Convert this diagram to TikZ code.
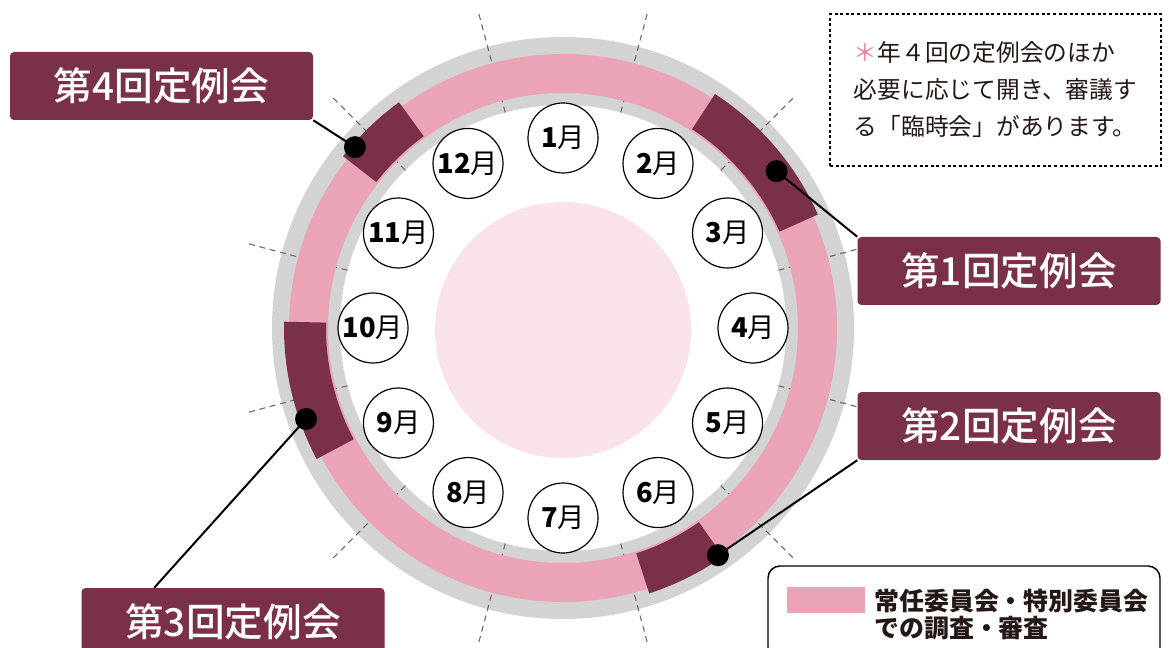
\documentclass[tikz,border=0pt]{standalone}
\usepackage{fontspec}
\newfontfamily\jp{Noto Sans CJK JP}
\newfontfamily\jpmed{Noto Sans CJK JP Medium}
\usetikzlibrary{calc}
\definecolor{ringgray}{RGB}{211,211,211}
\definecolor{bandpink}{RGB}{235,163,182}
\definecolor{maroon}{RGB}{122,48,73}
\definecolor{innerpink}{RGB}{249,227,232}
\definecolor{tickgray}{RGB}{105,105,105}
\definecolor{astpink}{RGB}{232,128,160}
\definecolor{txt}{RGB}{35,24,21}
\begin{document}
\begin{tikzpicture}[x=0.75pt,y=0.75pt,
 radtick/.style={draw=tickgray, line width=0.8pt, dash pattern=on 4.5pt off 3.5pt},
 month/.style={circle, draw=black, line width=0.9pt, fill=white, minimum size=52.5pt, inner sep=0pt, text=black, font=\jp\fontsize{20.5}{21}\selectfont},
 meeting/.style={fill=maroon, rounded corners=3pt, minimum width=227.25pt, minimum height=51pt, inner sep=0pt, text=white, font=\jpmed\fontsize{29}{30}\selectfont},
 blackdot/.style={circle, fill=black, minimum size=16.5pt, inner sep=0pt},
 link/.style={draw=black, line width=1.5pt},
]
\useasboundingbox (0,0) rectangle (1174,647);
\fill[white] (0,0) rectangle (1174,647);
\begin{scope}[shift={(563,319)}]
 \fill[ringgray] (0,0) circle (291);
 \fill[white] (0,0) circle (223);
 \foreach \a in {15,45,...,345} \draw[radtick] (\a:223) -- (\a:326);
 \fill[bandpink, even odd rule] (0,0) circle (274) (0,0) circle (235);
 \foreach \s/\e in {24/57, -72/-55, 178.7/208, 126/142}
   \fill[maroon] (\s:237) arc[start angle=\s, end angle=\e, radius=237] -- (\e:279) arc[start angle=\e, end angle=\s, radius=279] -- cycle;
 \fill[innerpink] (0,-2) circle (128);
 \foreach \m in {1,...,12} \node[month] (m\m) at ({90-30*(\m-1)}:190) {{\bfseries\m}月};
 \coordinate (p1) at (36.3:265);
 \coordinate (p2) at (-55.7:275);
 \coordinate (p3) at (199.5:272.6);
 \coordinate (p4) at (139:275.7);
\end{scope}
\node[meeting] (b4) at (161.5,561) {第4回定例会};
\node[meeting] (b1) at (1009,376) {第1回定例会};
\node[meeting] (b2) at (1009,221) {第2回定例会};
\node[meeting] (b3) at (233,25) {第3回定例会};
\draw[link] (b4.south east) -- (p4);
\draw[link] (p1) -- (b1.north west);
\draw[link] (p2) -- (b2.south west);
\draw[link] (p3) -- ($(b3.north west)+(73,0)$);
\node[blackdot] (d1) at (p1) {};
\node[blackdot] (d2) at (p2) {};
\node[blackdot] (d3) at (p3) {};
\node[blackdot] (d4) at (p4) {};
\node[draw=black, dash pattern=on 2.2pt off 2pt, line width=0.8pt, minimum width=248.25pt, minimum height=114pt, inner sep=0pt, font=\jp\fontsize{17.8}{27.75}\selectfont, align=left, text=txt] (note) at (995.5,557) {{\color{astpink}＊}年４回の定例会のほか\\必要に応じて開き、審議す\\る「臨時会」があります。};
\node[draw=black, line width=1.1pt, rounded corners=9pt, minimum width=294pt, minimum height=70.5pt, inner sep=0pt] (legend) at (964,34) {};
\node[fill=bandpink, minimum width=58.5pt, minimum height=19.5pt, inner sep=0pt] (swatch) at (826,47) {};
\node[anchor=west, align=left, inner sep=0pt, text=txt, font=\jp\bfseries\fontsize{18.7}{20.25}\selectfont] (legtext) at (874,32.5) {常任委員会・特別委員会\\での調査・審査};
\end{tikzpicture}
\end{document}
